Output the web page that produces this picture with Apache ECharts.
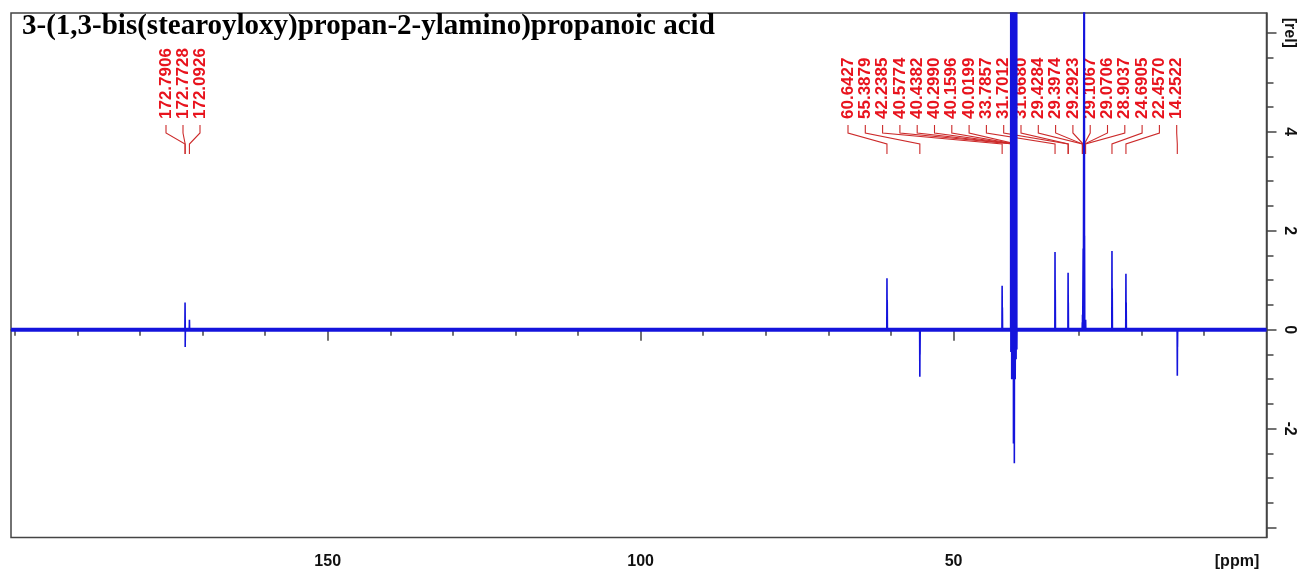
<!DOCTYPE html>
<html><head><meta charset="utf-8">
<script src="https://cdn.jsdelivr.net/npm/echarts@6/dist/echarts.min.js"></script>
<style>html,body{margin:0;padding:0;background:#fff}#c{width:1299px;height:573px}</style>
</head><body><div id="c"></div>
<script>
// ---------------- data ----------------
const TITLE = '3-(1,3-bis(stearoyloxy)propan-2-ylamino)propanoic acid';
const xTickValues = [10, 20, 30, 40, 50, 60, 70, 80, 90, 100, 110, 120, 130, 140, 150, 160, 170, 180, 190, 200];
const xLabelValues = [50, 100, 150];
const yTickValues = [-4, -3.5, -3, -2.5, -2, -1.5, -1, -0.5, 0, 0.5, 1, 1.5, 2, 2.5, 3, 3.5, 4, 4.5, 5, 5.5, 6];
const yMajorValues = [-4, -2, 0, 2, 4, 6];
const yLabelValues = [-2, 0, 2, 4, 6];

// sample peaks (ppm, relative intensity)
const peakPpm    = [172.79, 172.77, 172.09, 60.64, 60.60, 55.39, 55.36, 42.24, 42.20, 33.79, 33.75, 31.70, 31.67, 29.43, 29.40, 29.29, 29.11, 29.07, 28.90, 24.69, 24.65, 22.46, 22.42, 14.25, 14.22];
const peakHeight = [0.55,   -0.35,  0.20,   1.04,  0.60,  -0.95, -0.50, 0.89,  0.45,  1.57,  0.80,  1.15,  0.55,  0.15,  0.30,  1.64,  12.0,  1.90,  0.20,  1.59,  0.83,  1.13,  0.55,  -0.93, -0.35];

// solvent (DMSO) multiplet: positive and negative excursions
const solventPpm  = [40.85, 40.72, 40.58, 40.44, 40.30, 40.16, 40.02, 39.90];
const solventUp   = [8, 9, 10, 11, 11, 10, 9, 8];
const solventDown = [-0.45, -1.0, -1.0, -2.3, -2.7, -1.0, -0.6, -0.4];

// peak-pick labels
const peakLabels = ['172.7906', '172.7728', '172.0926', '60.6427', '55.3879', '42.2385', '40.5774', '40.4382', '40.2990', '40.1596', '40.0199', '33.7857', '31.7012', '31.6680', '29.4284', '29.3974', '29.2923', '29.1067', '29.0706', '28.9037', '24.6905', '22.4570', '14.2522'];

// ---------------- layout (annotation text slots) ----------------
const LABEL_GROUPS = [
  { from: 0, to: 2, firstX: 166, step: 17 },
  { from: 3, to: 22, firstX: 848, step: 17.3 }
];
function labelX(i) {
  for (const g of LABEL_GROUPS) if (i >= g.from && i <= g.to) return g.firstX + (i - g.from) * g.step;
  return 0;
}

// ---------------- build spectrum ----------------
const events = [];
peakPpm.forEach((p, i) => events.push({ p, type: 'peak', h: peakHeight[i] }));
solventPpm.forEach((p, i) => events.push({ p, type: 'solv', up: solventUp[i], down: solventDown[i] }));
events.sort((a, b) => b.p - a.p);
const spec = [[200.6, 0]];
events.forEach(e => {
  if (e.type === 'peak') {
    spec.push([e.p + 0.03, 0], [e.p, e.h], [e.p - 0.03, 0]);
  } else {
    spec.push([e.p + 0.03, 0], [e.p + 0.01, e.up], [e.p - 0.01, e.down], [e.p - 0.03, 0]);
  }
});
spec.push([0, 0]);

const XMIN = 0, XMAX = 200.6, YMIN = -4.2, YMAX = 6.4;
const AX = '#444';
const FONT_SANS = '"Liberation Sans", Arial, sans-serif';
const chart = echarts.init(document.getElementById('c'), null, { renderer: 'canvas' });
chart.setOption({
  animation: false,
  backgroundColor: '#fff',
  grid: { left: 11, right: 32.5, top: 13, bottom: 35.5, show: true, borderColor: AX, borderWidth: 1.5, backgroundColor: 'transparent' },
  xAxis: [
    { type: 'value', min: XMIN, max: XMAX, inverse: true, position: 'bottom',
      axisLine: { show: true, lineStyle: { color: AX, width: 1.5 } },
      axisTick: { show: true, customValues: xTickValues, length: 6, lineStyle: { color: AX, width: 1.5 } },
      axisLabel: { show: false }, splitLine: { show: false } },
    { type: 'value', min: XMIN, max: XMAX, inverse: true, position: 'bottom',
      axisLine: { show: false },
      axisTick: { show: true, customValues: xLabelValues, length: 11, lineStyle: { color: AX, width: 1.5 } },
      axisLabel: { show: true, customValues: xLabelValues, margin: 16, color: '#111', fontWeight: 'bold', fontSize: 16, fontFamily: FONT_SANS },
      splitLine: { show: false } }
  ],
  yAxis: [
    { type: 'value', min: YMIN, max: YMAX, position: 'right',
      axisLine: { show: true, lineStyle: { color: AX, width: 1.5 } },
      axisTick: { show: true, customValues: yTickValues, length: 7, lineStyle: { color: AX, width: 1.5 } },
      axisLabel: { show: false }, splitLine: { show: false } },
    { type: 'value', min: YMIN, max: YMAX, position: 'right',
      axisLine: { show: false },
      axisTick: { show: true, customValues: yMajorValues, length: 10, lineStyle: { color: AX, width: 1.5 } },
      axisLabel: { show: true, customValues: yLabelValues, rotate: -90, margin: 15, color: '#111', fontWeight: 'bold', fontSize: 16, fontFamily: FONT_SANS,
        formatter: v => (v === 6 ? '[rel]' : String(v)) },
      splitLine: { show: false } }
  ],
  graphic: [
    { type: 'text', left: 22, top: 12, z: 10,
      style: { text: TITLE, font: 'bold 29px "Liberation Serif", "Times New Roman", serif', fill: '#000' } },
    { type: 'text', x: 1237, y: 562, z: 10,
      style: { text: '[ppm]', font: 'bold 16px ' + FONT_SANS, fill: '#111', align: 'center', verticalAlign: 'middle' } }
  ],
  series: [
    { type: 'custom', xAxisIndex: 0, yAxisIndex: 0, z: 1, clip: false,
      data: peakLabels.map((t, i) => [parseFloat(t), i]),
      renderItem: function (params, api) {
        const p = api.value(0), i = api.value(1);
        const px = api.coord([p, 0])[0];
        const lx = labelX(i);
        return { type: 'group', children: [
          { type: 'polyline', shape: { points: [[lx, 125], [lx, 133], [px, 144], [px, 154]] },
            style: { stroke: '#cc2a2a', lineWidth: 1.1, fill: null } },
          { type: 'text', x: lx, y: 119, rotation: Math.PI / 2,
            style: { text: peakLabels[i], x: 0, y: 0, fill: '#e8141e', font: 'bold 17px ' + FONT_SANS,
              align: 'left', verticalAlign: 'middle', textAlign: 'left', textVerticalAlign: 'middle' } }
        ] };
      } },
    { type: 'line', name: 'baseline', xAxisIndex: 0, yAxisIndex: 0, z: 3, data: [[200.6, 0], [0, 0]], symbol: 'none',
      lineStyle: { color: '#1414dc', width: 4 } },
    { type: 'line', name: 'spectrum', xAxisIndex: 0, yAxisIndex: 0, z: 4, data: spec, symbol: 'none', clip: true,
      lineStyle: { color: '#1414dc', width: 1.6 } }
  ]
});
</script></body></html>
